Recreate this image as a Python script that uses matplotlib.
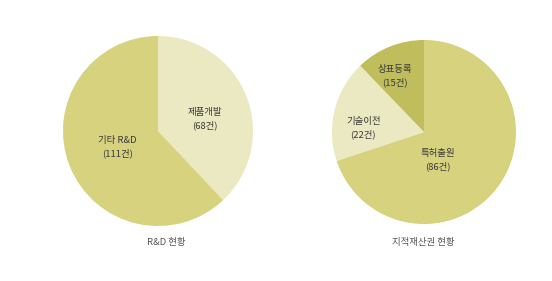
import matplotlib
matplotlib.use('Agg')
import matplotlib.pyplot as plt

plt.rcParams['font.family'] = ['Noto Sans CJK KR', 'DejaVu Sans']

rd_labels = ['제품개발\n(68건)', '기타 R&D\n(111건)']
rd_values = [68, 111]
rd_colors = ['#ebe9c1', '#d6d27d']
rd_title = 'R&D 현황'

ip_labels = ['특허출원\n(86건)', '기술이전\n(22건)', '상표등록\n(15건)']
ip_values = [86, 22, 15]
ip_colors = ['#d6d27d', '#ebe9c1', '#bfbd5c']
ip_title = '지적재산권 현황'

# label positions inside each pie (axes data units, radius = 1)
rd_text_pos = [(0.49, 0.13), (-0.43, -0.17)]
ip_text_pos = [(0.15, -0.31), (-0.66, 0.04), (-0.32, 0.61)]

W, H = 552, 281
fig = plt.figure(figsize=(W / 100, H / 100), dpi=100)
fig.patch.set_facecolor('white')


def draw_pie(cx, cy, r, values, colors, labels, text_pos, title, title_x):
    ax = fig.add_axes([(cx - r) / W, (H - cy - r) / H, 2 * r / W, 2 * r / H])
    ax.pie(values, colors=colors, startangle=90, counterclock=False,
           radius=1, wedgeprops=dict(linewidth=0))
    for lab, (x, y) in zip(labels, text_pos):
        ax.text(x, y, lab, ha='center', va='center', fontsize=6.8,
                color='#3a3a3a', linespacing=1.45)
    ax.set_xlim(-1, 1)
    ax.set_ylim(-1, 1)
    ax.set_aspect('equal')
    ax.axis('off')
    fig.text(title_x / W, 1 - 242 / H, title, ha='center', va='center',
             fontsize=6.8, color='#555555')


draw_pie(158, 131, 95, rd_values, rd_colors, rd_labels, rd_text_pos, rd_title, 166)
draw_pie(424, 132, 92, ip_values, ip_colors, ip_labels, ip_text_pos, ip_title, 423)

fig.savefig('out.png', dpi=100)
